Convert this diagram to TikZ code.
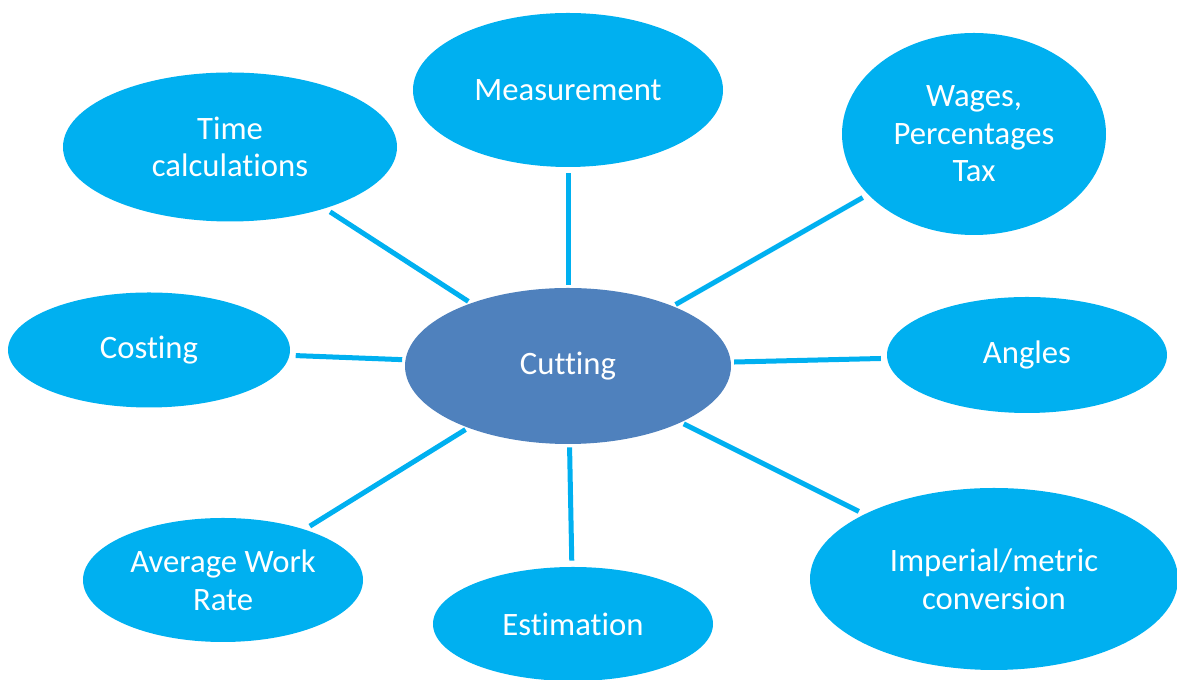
\documentclass[tikz,border=0pt]{standalone}
\usepackage{fontspec}
\setmainfont{Carlito}[Ligatures = NoCommon]
\usepackage{tikz}
\usetikzlibrary{shapes.geometric}

\definecolor{topicblue}{HTML}{00B0F0}
\definecolor{hubblue}{HTML}{4F81BD}

\begin{document}
\begin{tikzpicture}[
    topic/.style = {ellipse, fill = topicblue, inner sep = 0pt, align = center,
      text = white, font = \fontsize{18.6}{21.4}\selectfont},
    hub/.style = {topic, fill = hubblue},
    link/.style = {draw = topicblue, line width = 0.1cm, shorten <= 0.06cm, shorten >= 0.12cm}
  ]
      \useasboundingbox (0.0, 0.0) rectangle (23.54, 13.6);
      \node [hub, minimum width = 6.52cm, minimum height = 3.12cm] (cut) at (11.36, 6.28) {Cutting};
      \node [topic, minimum width = 6.2cm, minimum height = 3.08cm] (meas) at (11.36, 11.8) {Measurement};
      \node [topic, minimum width = 6.68cm, minimum height = 2.98cm] (time) at (4.6, 10.66) {Time\\calculations};
      \node [topic, minimum width = 5.28cm, minimum height = 4.04cm] (wages) at (19.48, 10.92) {Wages,\\Percentages\\Tax};
      \node [topic, minimum width = 5.64cm, minimum height = 2.3cm] (cost) at (2.98, 6.6) {Costing};
      \node [topic, minimum width = 5.6cm, minimum height = 2.32cm] (angles) at (20.54, 6.5) {Angles};
      \node [topic, minimum width = 5.6cm, minimum height = 2.48cm] (avg) at (4.46, 2.0) {Average Work\\Rate};
      \node [topic, minimum width = 5.6cm, minimum height = 2.28cm] (est) at (11.46, 1.12) {Estimation};
      \node [topic, minimum width = 7.36cm, minimum height = 3.64cm] (imp) at (19.88, 2.02) {Imperial/metric\\conversion};
      \foreach \n in {meas, time, wages, cost, angles, avg, est, imp}{
        \draw [link] (cut) -- (\n);
      }
    \end{tikzpicture}
\end{document}
